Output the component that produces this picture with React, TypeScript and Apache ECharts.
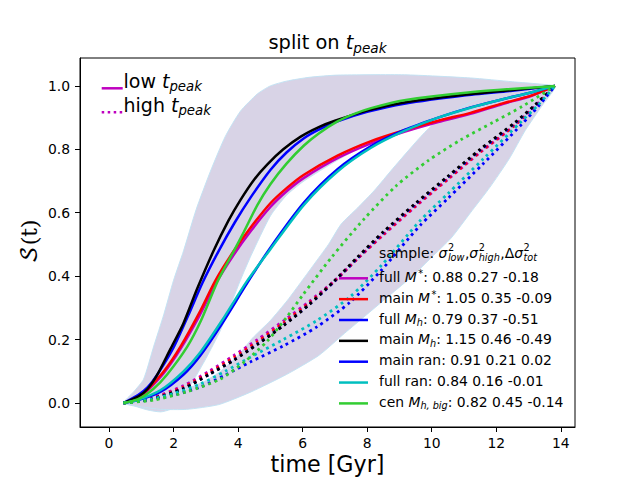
import { useEffect, useRef } from "react";
import * as echarts from "echarts";

const FONT = "'DejaVu Sans', 'Liberation Sans', sans-serif";

// ---- axes ----
const xTickValues = [0, 2, 4, 6, 8, 10, 12, 14];
const yTickValues = [0, 0.2, 0.4, 0.6, 0.8, 1.0];

// ---- legend numbers ----
const sigmaLow = [0.88, 1.05, 0.79, 1.15, 0.91, 0.84, 0.82];
const sigmaHigh = [0.27, 0.35, 0.37, 0.46, 0.21, 0.16, 0.45];
const deltaTot = [-0.18, -0.09, -0.51, -0.49, 0.02, -0.01, -0.14];

// ---- low t_peak curves (solid) ----
const fullMstarLow = [[0.45, 0], [0.9, 0.014], [1.17, 0.037], [1.7, 0.095], [2.21, 0.17], [2.8, 0.275], [3.3, 0.375], [3.87, 0.468], [4.4, 0.543], [5.0, 0.618], [5.53, 0.67], [6.04, 0.71], [7.08, 0.772], [8.1, 0.818], [9.15, 0.855], [10.2, 0.886], [11.2, 0.912], [12.2, 0.943], [13.1, 0.969], [13.82, 1.0]];
const mainMstarLow = [[0.45, 0], [0.9, 0.015], [1.17, 0.04], [1.7, 0.1], [2.21, 0.177], [2.8, 0.285], [3.3, 0.387], [3.87, 0.48], [4.4, 0.555], [5.0, 0.63], [5.53, 0.68], [6.04, 0.72], [7.08, 0.78], [8.1, 0.825], [9.15, 0.86], [10.2, 0.89], [11.2, 0.915], [12.2, 0.945], [13.1, 0.97], [13.82, 1.0]];
const fullMhLow = [[0.45, 0], [0.9, 0.025], [1.2, 0.05], [1.5, 0.09], [2.0, 0.175], [2.45, 0.275], [2.9, 0.38], [3.4, 0.48], [3.9, 0.57], [4.4, 0.65], [5.0, 0.735], [5.5, 0.79], [6.04, 0.835], [6.5, 0.862], [7.08, 0.888], [8.0, 0.918], [9.15, 0.944], [11.0, 0.97], [12.5, 0.985], [13.82, 1.0]];
const mainMhLow = [[0.45, 0], [0.9, 0.02], [1.2, 0.045], [1.5, 0.09], [1.9, 0.17], [2.3, 0.25], [2.73, 0.36], [3.24, 0.48], [3.7, 0.575], [4.07, 0.64], [4.5, 0.705], [4.9, 0.752], [5.4, 0.8], [5.94, 0.84], [6.5, 0.87], [7.0, 0.89], [8.0, 0.922], [9.15, 0.948], [11.0, 0.972], [12.5, 0.987], [13.82, 1.0]];
const mainRanLow = [[0.45, 0], [0.9, 0.009], [1.59, 0.035], [2.31, 0.09], [2.83, 0.15], [3.5, 0.25], [4.28, 0.378], [5.0, 0.49], [6.04, 0.632], [7.08, 0.737], [8.12, 0.81], [9.15, 0.861], [10.2, 0.9], [11.23, 0.933], [12.2, 0.958], [13.1, 0.98], [13.82, 1.0]];
const fullRanLow = [[0.45, 0], [0.9, 0.01], [1.59, 0.04], [2.31, 0.1], [2.83, 0.16], [3.5, 0.26], [4.28, 0.385], [5.0, 0.485], [6.04, 0.625], [7.08, 0.73], [8.12, 0.805], [9.15, 0.858], [10.2, 0.9], [11.23, 0.932], [12.2, 0.958], [13.1, 0.98], [13.82, 1.0]];
const cenMhBigLow = [[0.45, 0], [0.9, 0.012], [1.38, 0.045], [1.8, 0.09], [2.42, 0.177], [2.85, 0.26], [3.38, 0.387], [3.87, 0.48], [4.18, 0.54], [4.6, 0.625], [5.0, 0.69], [5.5, 0.755], [6.04, 0.812], [6.5, 0.85], [7.08, 0.888], [7.6, 0.912], [8.12, 0.93], [9.15, 0.955], [11.2, 0.98], [13.82, 1.0]];

// ---- high t_peak curves (dotted) ----
const fullMstarHigh = [[0.45, 0], [1.3, 0.015], [2.31, 0.055], [3.1, 0.1], [3.87, 0.15], [4.6, 0.2], [5.42, 0.26], [6.2, 0.32], [6.98, 0.385], [7.7, 0.455], [8.5, 0.53], [9.5, 0.62], [10.5, 0.705], [11.5, 0.79], [12.58, 0.875], [13.2, 0.935], [13.82, 1.0]];
const mainMstarHigh = [[0.45, 0], [1.3, 0.013], [2.31, 0.05], [3.1, 0.095], [3.87, 0.143], [4.6, 0.193], [5.42, 0.253], [6.2, 0.315], [6.98, 0.383], [7.7, 0.455], [8.5, 0.532], [9.5, 0.622], [10.5, 0.707], [11.5, 0.792], [12.58, 0.877], [13.2, 0.936], [13.82, 1.0]];
const fullMhHigh = [[0.45, 0], [1.3, 0.012], [2.31, 0.046], [3.1, 0.09], [3.87, 0.136], [4.6, 0.186], [5.42, 0.246], [6.2, 0.31], [6.98, 0.383], [7.7, 0.457], [8.5, 0.537], [9.5, 0.627], [10.5, 0.712], [11.5, 0.797], [12.58, 0.882], [13.2, 0.938], [13.82, 1.0]];
const mainMhHigh = [[0.45, 0], [1.3, 0.012], [2.31, 0.045], [3.1, 0.09], [3.87, 0.135], [4.6, 0.185], [5.42, 0.245], [6.2, 0.31], [6.98, 0.385], [7.7, 0.46], [8.5, 0.54], [9.5, 0.63], [10.5, 0.715], [11.5, 0.8], [12.58, 0.885], [13.2, 0.94], [13.82, 1.0]];
const mainRanHigh = [[0.45, 0], [1.3, 0.01], [2.0, 0.025], [2.83, 0.05], [3.6, 0.088], [4.39, 0.13], [5.4, 0.18], [6.44, 0.24], [7.47, 0.318], [8.45, 0.42], [9.64, 0.56], [10.5, 0.645], [11.6, 0.755], [12.78, 0.878], [13.3, 0.935], [13.82, 1.0]];
const fullRanHigh = [[0.45, 0], [1.3, 0.012], [2.0, 0.03], [2.83, 0.06], [3.6, 0.1], [4.39, 0.145], [5.4, 0.2], [6.44, 0.26], [7.47, 0.335], [8.45, 0.435], [9.64, 0.575], [10.5, 0.66], [11.6, 0.77], [12.78, 0.888], [13.3, 0.94], [13.82, 1.0]];
const cenMhBigHigh = [[0.45, 0], [1.37, 0.009], [2.4, 0.035], [3.44, 0.075], [4.2, 0.13], [4.9, 0.195], [5.5, 0.27], [6.0, 0.34], [6.9, 0.46], [7.9, 0.58], [8.9, 0.685], [9.9, 0.765], [10.9, 0.83], [11.9, 0.885], [12.8, 0.935], [13.82, 1.0]];

// ---- scatter bands ----
const bandLowUpper = [[0.45, 0], [0.76, 0.035], [1.07, 0.075], [1.38, 0.177], [1.7, 0.28], [2.0, 0.387], [2.31, 0.48], [2.7, 0.61], [3.14, 0.73], [3.6, 0.84], [4.07, 0.92], [4.6, 0.975], [5.0, 1.0], [5.5, 1.015], [6.2, 1.027], [7.08, 1.034], [9.15, 1.035], [11.2, 1.025], [12.5, 1.013], [13.82, 1.0]];
const bandLowLower = [[0.45, 0], [0.8, -0.01], [1.2, -0.022], [1.6, -0.028], [1.9, -0.02], [2.15, 0.0], [2.35, 0.03], [2.62, 0.072], [3.0, 0.14], [3.45, 0.229], [4.07, 0.387], [4.4, 0.465], [5.0, 0.59], [5.5, 0.655], [6.04, 0.7], [7.08, 0.766], [8.12, 0.823], [9.15, 0.866], [10.0, 0.895], [11.0, 0.93], [12.0, 0.96], [13.0, 0.985], [13.82, 1.0]];
const bandHighUpper = [[0.45, 0], [1.2, 0.012], [1.8, 0.025], [2.41, 0.045], [3.0, 0.07], [3.45, 0.1], [4.0, 0.15], [4.45, 0.205], [5.0, 0.26], [5.53, 0.324], [5.94, 0.38], [6.3, 0.43], [6.8, 0.5], [7.2, 0.565], [7.7, 0.615], [8.22, 0.67], [8.8, 0.74], [9.57, 0.83], [10.0, 0.875], [10.4, 0.9], [11.23, 0.95], [12.2, 0.985], [13.82, 1.0]];
const bandHighLower = [[0.45, 0], [1.0, -0.012], [1.6, -0.02], [2.4, -0.02], [3.4, -0.005], [4.4, 0.035], [5.5, 0.09], [6.5, 0.15], [7.3, 0.22], [8.0, 0.28], [8.7, 0.34], [9.4, 0.4], [10.0, 0.46], [10.6, 0.52], [11.2, 0.6], [11.8, 0.68], [12.4, 0.77], [12.9, 0.86], [13.4, 0.935], [13.82, 1.0]];

const lowCurves = [fullMstarLow, mainMstarLow, fullMhLow, mainMhLow, mainRanLow, fullRanLow, cenMhBigLow];
const highCurves = [fullMstarHigh, mainMstarHigh, fullMhHigh, mainMhHigh, mainRanHigh, fullRanHigh, cenMhBigHigh];

// ---- styles ----
const COLORS = ["#bf00bf", "#ff0000", "#0000ff", "#000000", "#0000ff", "#00bfbf", "#32cd32"];
const NAME_RICH = [
  "{n|full }{i|M}{st|*}",
  "{n|main }{i|M}{st|*}",
  "{n|full }{i|M}{sub|h}",
  "{n|main }{i|M}{sub|h}",
  "{n|main ran}",
  "{n|full ran}",
  "{n|cen }{i|M}{sub|h, big}",
];
const BAND_FILL = "#d8d3e6";
const BAND_EDGE = "#c4e3f4";

const fmt = (v: number) => v.toFixed(2);

const LEG_FS = 13.9;
const LEG_SUB = 9.7;

const smallRich = {
  n: { fontSize: LEG_FS, fontFamily: FONT, fill: "#000" },
  i: { fontSize: LEG_FS, fontFamily: FONT, fontStyle: "italic", fill: "#000" },
  sub: { fontSize: LEG_SUB, fontFamily: FONT, fontStyle: "italic", fill: "#000", padding: [7.4, 0, 0, 0] },
  st: { fontSize: LEG_SUB, fontFamily: FONT, fill: "#000", padding: [0, 0, 6, 1.5] },
};

let measureCtx: CanvasRenderingContext2D | null = null;
function measure(text: string, size: number, italic: boolean) {
  if (!measureCtx) measureCtx = document.createElement("canvas").getContext("2d");
  if (!measureCtx) return text.length * size * 0.6;
  measureCtx.font = `${italic ? "italic " : ""}${size}px 'DejaVu Sans'`;
  return measureCtx.measureText(text).width;
}

function bandSeries(upper: number[][], lower: number[][]) {
  const pts = [...upper, ...lower.slice(1, -1).reverse()];
  return {
    type: "custom",
    coordinateSystem: "cartesian2d",
    silent: true,
    z: 1,
    data: [[0, 0]],
    renderItem: (_params: any, api: any) => ({
      type: "polygon",
      shape: { points: pts.map((p) => api.coord(p)), smooth: 0.2 },
      style: { fill: BAND_FILL, stroke: BAND_EDGE, lineWidth: 1 },
    }),
  };
}

// sample header with stacked super/subscripts
function sampleHeader(x0: number, yc: number) {
  const els: any[] = [];
  let x = x0;
  const put = (t: string, size: number, italic: boolean, dy: number) => {
    els.push({
      type: "text",
      x,
      y: yc + dy,
      z: 100,
      style: { text: t, fontSize: size, fontFamily: FONT, fontStyle: italic ? "italic" : "normal", fill: "#000", align: "left", verticalAlign: "middle" },
    });
    return measure(t, size, italic);
  };
  const stacked = (sub: string) => {
    const w1 = put("2", LEG_SUB, false, -5.2);
    const w2 = put(sub, LEG_SUB, true, 4.6);
    x += Math.max(w1, w2) + 0.5;
  };
  x += put("sample: ", LEG_FS, false, 0);
  x += put("σ", LEG_FS, true, 0) + 0.5;
  stacked("low");
  x += put(",", LEG_FS, false, 0);
  x += put("σ", LEG_FS, true, 0) + 0.5;
  stacked("high");
  x += put(",Δ", LEG_FS, false, 0);
  x += put("σ", LEG_FS, true, 0) + 0.5;
  stacked("tot");
  return els;
}

export default function App() {
  const ref = useRef<HTMLDivElement>(null);
  useEffect(() => {
    if (!ref.current) return;
    const chart = echarts.init(ref.current, null, { renderer: "svg" });

    const series: any[] = [bandSeries(bandLowUpper, bandLowLower), bandSeries(bandHighUpper, bandHighLower)];
    lowCurves.forEach((c, i) => {
      series.push({
        type: "line",
        data: c,
        smooth: 0.25,
        symbol: "none",
        silent: true,
        z: 3 + i,
        lineStyle: { color: COLORS[i], width: 2.5 },
      });
      series.push({
        type: "line",
        data: highCurves[i],
        smooth: 0.25,
        symbol: "none",
        silent: true,
        z: 3 + i,
        lineStyle: { color: COLORS[i], width: 2.8, type: [2.8, 3.9], cap: "butt" },
      });
    });

    const graphic: any[] = [];
    // title
    graphic.push({
      type: "text",
      x: 327.5,
      y: 42.6,
      z: 100,
      style: {
        text: "{n|split on }{i|t}{sub|peak}",
        align: "center",
        verticalAlign: "middle",
        rich: {
          n: { fontSize: 19.4, fontFamily: FONT, fill: "#000" },
          i: { fontSize: 19.4, fontFamily: FONT, fontStyle: "italic", fill: "#000" },
          sub: { fontSize: 13.6, fontFamily: FONT, fontStyle: "italic", fill: "#000", padding: [10, 0, 0, 0] },
        },
      },
    });
    // x label
    graphic.push({
      type: "text",
      x: 327.5,
      y: 464,
      z: 100,
      style: { text: "time [Gyr]", fontSize: 22.2, fontFamily: FONT, fill: "#000", align: "center", verticalAlign: "middle" },
    });
    // y label
    graphic.push({
      type: "text",
      x: 30,
      y: 241,
      rotation: Math.PI / 2,
      z: 100,
      style: {
        text: "\u{1D4AE}(t)",
        fontSize: 22.2,
        fontFamily: "'DejaVu Math TeX Gyre', 'DejaVu Sans', 'Noto Sans', serif",
        fill: "#000",
        align: "center",
        verticalAlign: "middle",
      },
    });
    // upper-left legend
    const bigRich = {
      n: { fontSize: 19, fontFamily: FONT, fill: "#000" },
      i: { fontSize: 19, fontFamily: FONT, fontStyle: "italic", fill: "#000" },
      sub: { fontSize: 13.3, fontFamily: FONT, fontStyle: "italic", fill: "#000", padding: [10, 0, 0, 0] },
    };
    graphic.push({ type: "line", z: 100, shape: { x1: 101.7, y1: 88.3, x2: 122.7, y2: 88.3 }, style: { stroke: "#bf00bf", lineWidth: 2.5 } });
    graphic.push({ type: "line", z: 100, shape: { x1: 101.7, y1: 112.3, x2: 122.7, y2: 112.3 }, style: { stroke: "#bf00bf", lineWidth: 2.5, lineDash: [2.5, 3.5] } });
    graphic.push({ type: "text", x: 123.5, y: 81, z: 100, style: { text: "{n|low }{i|t}{sub|peak}", verticalAlign: "middle", align: "left", rich: bigRich } });
    graphic.push({ type: "text", x: 123.5, y: 105, z: 100, style: { text: "{n|high }{i|t}{sub|peak}", verticalAlign: "middle", align: "left", rich: bigRich } });

    // lower-right legend
    graphic.push(...sampleHeader(379, 253));
    COLORS.forEach((c, i) => {
      const y = 278.3 + i * 20.85;
      graphic.push({ type: "line", z: 100, shape: { x1: 339, y1: y, x2: 368, y2: y }, style: { stroke: c, lineWidth: 2.5 } });
      graphic.push({
        type: "text",
        x: 379,
        y: y - 1.5,
        z: 100,
        style: {
          text: `${NAME_RICH[i]}{n|: ${fmt(sigmaLow[i])} ${fmt(sigmaHigh[i])} ${fmt(deltaTot[i])}}`,
          verticalAlign: "middle",
          align: "left",
          rich: smallRich,
        },
      });
    });

    chart.setOption({
      animation: false,
      backgroundColor: "#ffffff",
      grid: { left: 80, right: 65, top: 58, bottom: 53, show: true, borderColor: "#000", borderWidth: 1, backgroundColor: "transparent" },
      xAxis: {
        type: "value",
        min: -0.9,
        max: 14.44,
        axisLine: { show: true, onZero: false, lineStyle: { color: "#000", width: 1 } },
        axisTick: { show: true, customValues: xTickValues, length: 5, lineStyle: { color: "#000", width: 1 } },
        axisLabel: { customValues: xTickValues, margin: 9, fontSize: 13.9, fontFamily: FONT, color: "#000", formatter: (v: number) => String(v) },
        splitLine: { show: false },
      },
      yAxis: {
        type: "value",
        min: -0.0757,
        max: 1.088,
        axisLine: { show: true, onZero: false, lineStyle: { color: "#000", width: 1 } },
        axisTick: { show: true, customValues: yTickValues, length: 5, lineStyle: { color: "#000", width: 1 } },
        axisLabel: { customValues: yTickValues, margin: 10, fontSize: 13.9, fontFamily: FONT, color: "#000", formatter: (v: number) => v.toFixed(1) },
        splitLine: { show: false },
      },
      series,
      graphic,
    });
    return () => chart.dispose();
  }, []);
  return <div ref={ref} style={{ position: "absolute", left: 0, top: 0, width: 640, height: 480 }} />;
}
